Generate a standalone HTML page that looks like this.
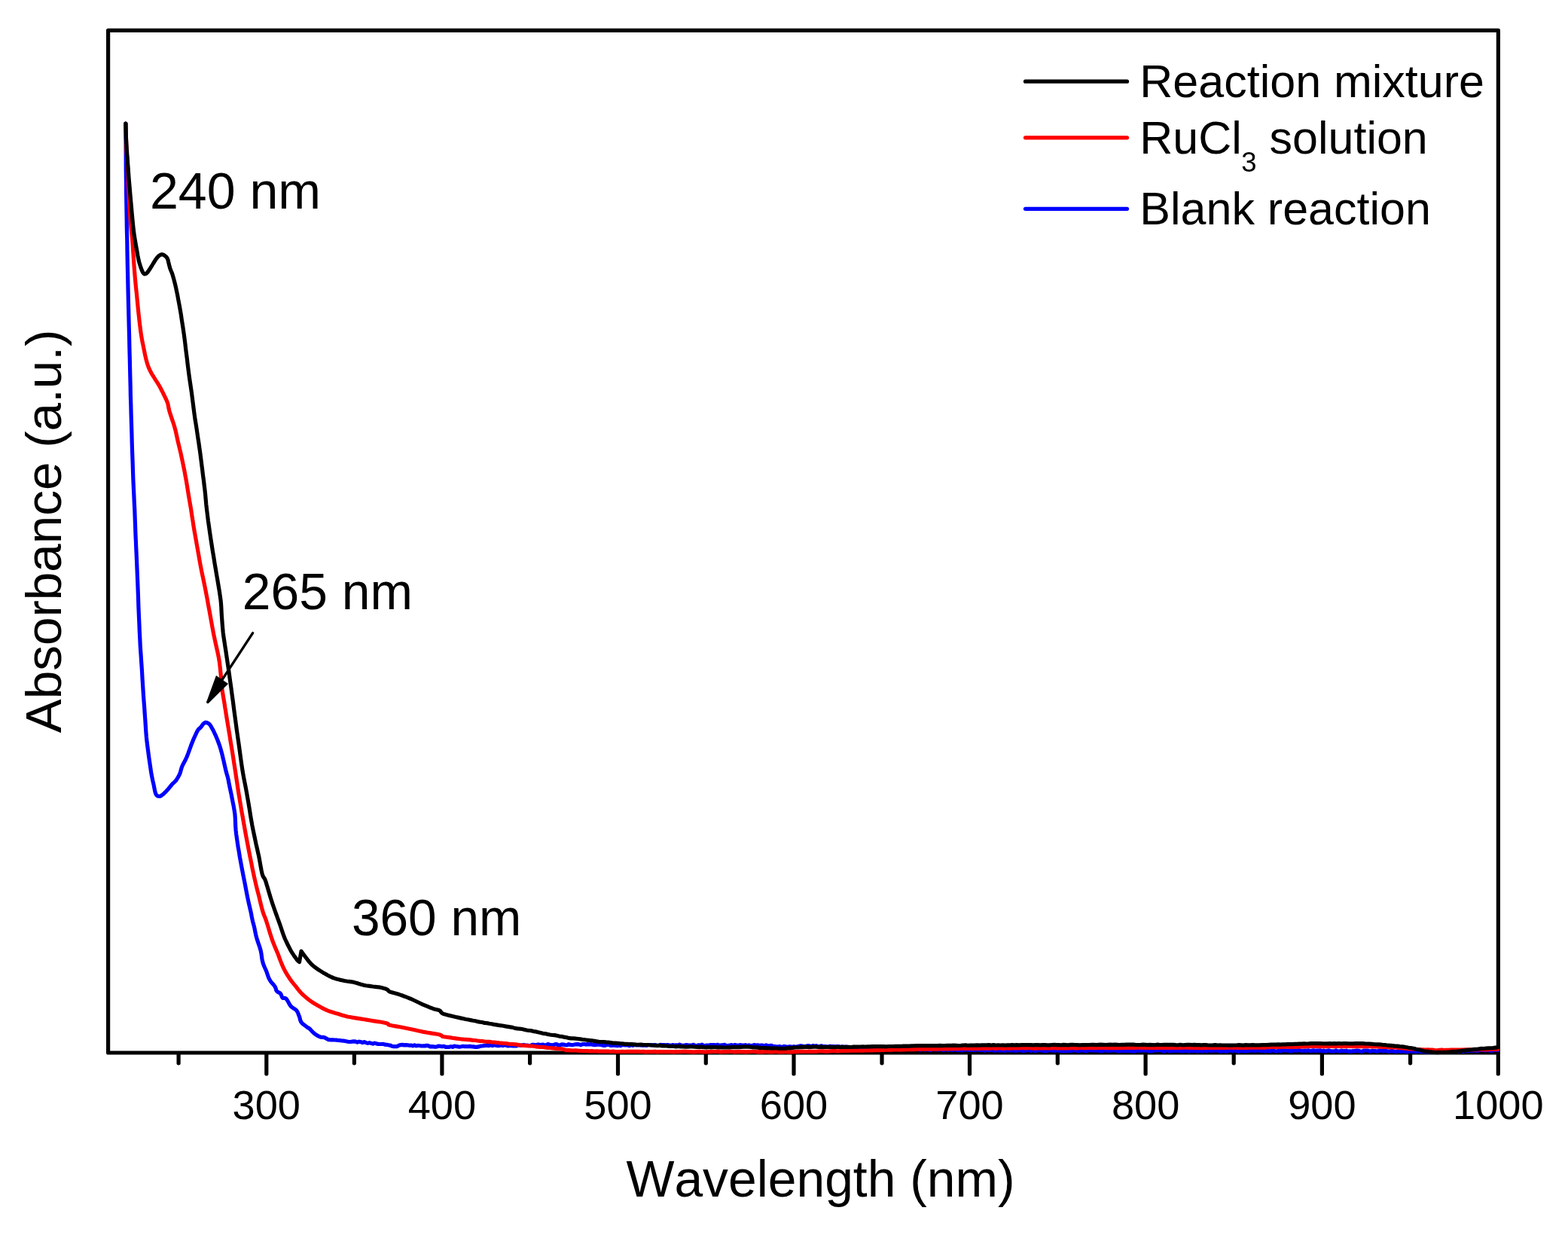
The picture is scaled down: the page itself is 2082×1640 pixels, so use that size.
<!DOCTYPE html>
<html lang="en"><head><meta charset="utf-8"><title>UV-Vis absorbance spectra</title>
<style>
html,body{margin:0;padding:0;background:#fff;}
body{width:2082px;height:1640px;overflow:hidden;}
svg{display:block;}
text{font-family:"Liberation Sans",sans-serif;font-kerning:none;}
</style></head><body>
<svg width="2082" height="1640" viewBox="0 0 2082 1640">
<rect width="2082" height="1640" fill="#fff"/>
<g fill="none" stroke="#000" stroke-width="5.2" stroke-linecap="round" stroke-linejoin="round">
<rect x="143.6" y="40.4" width="1845.8" height="1357.6"/>
<line x1="353.8" y1="1399.0" x2="353.8" y2="1426"/>
<line x1="586.9" y1="1399.0" x2="586.9" y2="1426"/>
<line x1="820.5" y1="1399.0" x2="820.5" y2="1426"/>
<line x1="1054.0" y1="1399.0" x2="1054.0" y2="1426"/>
<line x1="1287.5" y1="1399.0" x2="1287.5" y2="1426"/>
<line x1="1521.1" y1="1399.0" x2="1521.1" y2="1426"/>
<line x1="1755.4" y1="1399.0" x2="1755.4" y2="1426"/>
<line x1="1989.3" y1="1399.0" x2="1989.3" y2="1426"/>
<line x1="237.1" y1="1399.0" x2="237.1" y2="1411.8"/>
<line x1="470.4" y1="1399.0" x2="470.4" y2="1411.8"/>
<line x1="703.6" y1="1399.0" x2="703.6" y2="1411.8"/>
<line x1="937.3" y1="1399.0" x2="937.3" y2="1411.8"/>
<line x1="1171.0" y1="1399.0" x2="1171.0" y2="1411.8"/>
<line x1="1404.3" y1="1399.0" x2="1404.3" y2="1411.8"/>
<line x1="1638.2" y1="1399.0" x2="1638.2" y2="1411.8"/>
<line x1="1872.6" y1="1399.0" x2="1872.6" y2="1411.8"/>
</g>
<g fill="none" stroke-width="5.2" stroke-linecap="round" stroke-linejoin="round">
<path stroke="#0000ff" d="M166.9 164.0 L167.0 175.7 L167.1 192.5 L167.2 210.9 L167.3 227.5 L167.5 241.7 L167.6 255.2 L167.8 268.0 L168.0 280.0 L168.2 290.4 L168.3 299.4 L168.5 308.7 L168.8 320.0 L169.0 334.3 L169.3 350.6 L169.7 367.2 L170.0 382.5 L170.3 395.7 L170.6 407.8 L170.9 419.8 L171.2 432.5 L171.6 446.6 L171.9 461.4 L172.3 476.2 L172.6 490.0 L172.9 502.5 L173.2 514.2 L173.4 525.7 L173.8 537.5 L174.1 549.8 L174.5 562.3 L174.9 574.9 L175.2 587.5 L175.6 600.2 L176.1 613.2 L176.5 625.7 L176.9 637.5 L177.4 648.3 L177.9 658.4 L178.3 668.0 L178.8 677.0 L179.1 685.7 L179.4 694.0 L179.7 701.5 L179.9 708.0 L180.1 712.4 L180.2 715.1 L180.4 718.2 L180.6 723.8 L181.0 732.6 L181.5 743.5 L182.0 755.5 L182.5 767.5 L183.0 779.8 L183.5 792.8 L183.9 805.6 L184.4 817.5 L184.9 828.4 L185.3 838.6 L185.8 848.2 L186.2 857.0 L186.7 864.7 L187.2 871.5 L187.6 878.0 L188.1 885.0 L188.6 892.6 L189.0 900.4 L189.5 908.4 L190.0 916.2 L190.5 924.1 L191.1 931.9 L191.7 939.7 L192.2 947.5 L192.8 955.5 L193.3 963.5 L193.8 971.4 L194.4 978.8 L195.1 985.4 L195.9 991.6 L196.7 997.6 L197.5 1003.8 L198.4 1010.2 L199.4 1016.9 L200.3 1023.2 L201.2 1028.8 L202.1 1033.3 L202.9 1037.1 L203.7 1040.5 L204.4 1043.8 L205.0 1046.9 L205.6 1049.8 L206.2 1052.4 L206.9 1054.4 L207.8 1055.8 L208.9 1056.8 L210.1 1057.3 L211.2 1057.5 L212.4 1057.4 L213.6 1056.8 L214.9 1056.0 L216.2 1055.0 L217.7 1053.7 L219.3 1052.2 L220.9 1050.5 L222.5 1048.8 L224.1 1046.9 L225.7 1044.9 L227.3 1043.0 L228.8 1041.2 L230.1 1039.9 L231.3 1038.8 L232.5 1037.7 L233.8 1036.2 L235.0 1034.4 L236.4 1032.2 L237.6 1029.9 L238.8 1027.5 L239.6 1025.1 L240.2 1022.7 L240.9 1020.2 L241.9 1017.5 L243.2 1014.7 L244.7 1011.9 L246.4 1008.7 L248.1 1005.0 L249.9 1000.4 L251.8 995.2 L253.7 989.8 L255.6 985.0 L257.4 980.6 L259.3 976.5 L261.0 972.8 L262.5 970.0 L263.7 968.3 L264.6 967.5 L265.4 967.0 L266.2 966.2 L267.2 965.0 L268.1 963.6 L269.1 962.3 L270.0 961.2 L270.9 960.4 L271.8 959.8 L272.7 959.4 L273.8 959.4 L274.9 959.7 L276.2 960.3 L277.5 961.2 L278.8 962.5 L280.0 964.2 L281.2 966.4 L282.5 968.8 L283.8 971.2 L285.0 973.9 L286.3 976.6 L287.5 979.5 L288.8 982.5 L289.9 985.5 L291.0 988.5 L292.1 991.7 L293.1 995.0 L294.1 998.6 L295.1 1002.4 L296.0 1006.3 L296.9 1010.0 L297.7 1013.6 L298.5 1017.3 L299.3 1020.7 L300.0 1023.8 L300.7 1026.3 L301.3 1028.5 L301.9 1030.4 L302.5 1032.5 L302.9 1034.4 L303.3 1036.1 L303.6 1038.1 L304.2 1041.0 L305.0 1045.0 L306.0 1049.7 L307.1 1054.8 L308.1 1060.0 L309.1 1065.2 L310.2 1070.5 L311.1 1075.9 L311.9 1081.2 L312.3 1086.5 L312.5 1091.8 L312.7 1097.1 L313.1 1102.5 L313.7 1108.0 L314.5 1113.5 L315.3 1119.2 L316.2 1125.0 L317.3 1131.1 L318.3 1137.5 L319.5 1143.9 L320.6 1150.0 L321.7 1155.8 L322.8 1161.4 L323.9 1166.9 L325.0 1172.5 L326.1 1178.3 L327.2 1184.1 L328.3 1189.8 L329.4 1195.0 L330.4 1199.7 L331.4 1203.9 L332.3 1207.8 L333.1 1211.2 L333.7 1214.1 L334.1 1216.5 L334.5 1218.6 L335.0 1221.0 L335.6 1223.6 L336.3 1226.3 L337.1 1229.1 L337.8 1232.0 L338.4 1235.0 L339.0 1238.1 L339.7 1241.4 L340.6 1245.0 L341.9 1249.1 L343.4 1253.6 L345.0 1258.2 L346.2 1262.5 L347.0 1266.5 L347.5 1270.3 L348.0 1274.0 L348.8 1277.5 L349.8 1280.8 L351.1 1284.0 L352.5 1287.0 L353.8 1290.0 L354.8 1293.0 L355.8 1295.9 L356.8 1298.6 L358.1 1301.2 L359.7 1303.7 L361.7 1305.9 L363.5 1308.0 L365.0 1310.0 L365.9 1311.8 L366.4 1313.5 L366.8 1315.0 L367.5 1316.2 L368.6 1317.2 L370.0 1317.9 L371.4 1318.5 L372.5 1319.4 L373.2 1320.7 L373.8 1322.3 L374.3 1323.8 L375.0 1325.0 L376.0 1325.4 L377.3 1325.3 L378.6 1325.4 L380.0 1326.2 L381.4 1328.2 L383.0 1331.0 L384.6 1333.9 L386.2 1336.2 L388.1 1337.9 L390.2 1339.2 L392.1 1340.4 L393.8 1341.9 L395.0 1343.8 L395.9 1345.8 L396.7 1348.0 L397.5 1350.0 L398.1 1351.9 L398.5 1353.9 L399.1 1355.7 L400.0 1357.5 L401.6 1359.2 L403.7 1360.9 L405.8 1362.5 L407.5 1363.8 L408.6 1364.6 L409.5 1365.0 L410.2 1365.4 L411.2 1366.2 L412.6 1367.6 L414.1 1369.3 L415.8 1371.0 L417.5 1372.5 L419.3 1373.8 L421.3 1375.1 L423.3 1376.1 L425.0 1376.9 L426.4 1377.3 L427.6 1377.3 L428.7 1377.3 L430.0 1377.5 L431.6 1378.2 L433.4 1379.1 L435.1 1380.0 L436.2 1380.6 L440.0 1380.8 L442.3 1380.9 L444.6 1381.0 L446.9 1381.2 L449.2 1381.5 L451.5 1381.7 L453.8 1382.0 L456.1 1382.1 L458.4 1382.5 L460.7 1383.0 L463.0 1383.3 L465.3 1383.5 L467.6 1383.2 L469.9 1382.9 L472.2 1383.2 L474.5 1384.1 L476.8 1383.2 L479.1 1383.6 L481.4 1384.6 L483.7 1383.5 L486.0 1384.6 L488.3 1385.4 L490.6 1384.6 L492.9 1385.4 L495.2 1386.1 L497.5 1385.1 L499.8 1385.9 L502.1 1386.4 L504.4 1386.5 L506.7 1386.5 L509.0 1386.4 L511.3 1387.2 L513.6 1387.3 L515.9 1387.8 L518.2 1388.1 L520.5 1389.3 L522.8 1389.7 L525.1 1389.5 L527.4 1389.6 L529.7 1388.3 L532.0 1387.6 L534.3 1387.4 L536.6 1387.9 L538.9 1387.6 L541.2 1387.8 L543.5 1388.3 L545.8 1388.0 L548.1 1388.8 L550.4 1387.8 L552.7 1388.8 L555.0 1388.4 L557.3 1388.5 L559.6 1389.0 L561.9 1388.9 L564.2 1388.9 L566.5 1388.4 L568.8 1388.7 L571.1 1389.8 L573.4 1389.6 L575.7 1389.9 L578.0 1390.3 L580.3 1389.9 L582.6 1389.0 L584.9 1389.4 L587.2 1389.8 L589.5 1389.3 L591.8 1390.4 L594.1 1390.4 L596.4 1390.3 L598.7 1389.7 L601.0 1390.3 L603.3 1389.2 L605.6 1389.5 L607.9 1389.8 L610.2 1390.2 L612.5 1389.8 L614.8 1389.3 L617.1 1389.6 L619.4 1389.6 L621.7 1389.6 L624.0 1389.4 L626.3 1389.8 L628.6 1389.9 L630.9 1390.4 L633.2 1390.4 L635.5 1389.9 L637.8 1389.2 L640.1 1389.0 L642.4 1388.6 L644.7 1388.3 L647.0 1388.5 L649.3 1388.7 L651.6 1387.4 L653.9 1388.7 L656.2 1387.8 L658.5 1388.2 L660.8 1388.7 L663.1 1388.6 L665.4 1387.8 L667.7 1388.6 L670.0 1387.7 L672.3 1388.2 L674.6 1388.9 L676.9 1388.3 L679.2 1388.6 L681.5 1388.8 L683.8 1388.9 L686.1 1388.8 L688.4 1387.6 L690.7 1388.2 L693.0 1388.2 L695.3 1387.5 L697.6 1388.2 L699.9 1388.2 L702.2 1388.5 L704.5 1388.6 L706.8 1387.4 L709.1 1387.4 L711.4 1388.0 L713.7 1387.2 L716.0 1387.2 L718.3 1387.7 L720.6 1387.0 L722.9 1387.9 L725.2 1387.9 L727.5 1386.6 L729.8 1387.3 L732.1 1387.7 L734.4 1387.9 L736.7 1386.9 L739.0 1386.7 L741.3 1387.8 L743.6 1387.8 L745.9 1386.8 L748.2 1387.1 L750.5 1387.6 L752.8 1387.8 L755.1 1386.7 L757.4 1387.5 L759.7 1387.7 L762.0 1387.3 L764.3 1386.8 L766.6 1386.6 L768.9 1386.9 L771.2 1387.7 L773.5 1386.6 L775.8 1386.5 L778.1 1387.1 L780.4 1386.6 L782.7 1386.8 L785.0 1386.6 L787.3 1387.4 L789.6 1387.7 L791.9 1387.4 L794.2 1387.0 L796.5 1387.3 L798.8 1387.7 L801.1 1388.3 L803.4 1388.4 L805.7 1387.4 L808.0 1387.1 L810.3 1388.3 L812.6 1388.5 L814.9 1387.9 L817.2 1388.4 L819.5 1388.6 L821.8 1388.2 L824.1 1388.6 L826.4 1387.4 L828.7 1387.8 L831.0 1387.9 L833.3 1387.6 L835.6 1388.8 L837.9 1387.4 L840.2 1388.4 L842.5 1387.5 L844.8 1387.9 L847.1 1388.0 L849.4 1387.6 L851.7 1388.1 L854.0 1388.1 L856.3 1387.8 L858.6 1388.4 L860.9 1387.5 L863.2 1387.5 L865.5 1387.8 L867.8 1387.8 L870.1 1387.5 L872.4 1388.6 L874.7 1388.4 L877.0 1387.3 L879.3 1387.7 L881.6 1387.5 L883.9 1387.8 L886.2 1387.5 L888.5 1387.9 L890.8 1388.5 L893.1 1387.6 L895.4 1388.0 L897.7 1387.9 L900.0 1388.2 L902.3 1387.2 L904.6 1388.2 L906.9 1388.5 L909.2 1388.0 L911.5 1387.5 L913.8 1388.1 L916.1 1388.2 L918.4 1388.1 L920.7 1387.3 L923.0 1388.6 L925.3 1388.6 L927.6 1387.8 L929.9 1388.0 L932.2 1387.2 L934.5 1388.6 L936.8 1388.4 L939.1 1388.1 L941.4 1388.3 L943.7 1387.5 L946.0 1387.6 L948.3 1387.6 L950.6 1388.1 L952.9 1387.3 L955.2 1388.5 L957.5 1387.9 L959.8 1387.9 L962.1 1387.4 L964.4 1388.3 L966.7 1388.5 L969.0 1388.2 L971.3 1387.6 L973.6 1388.4 L975.9 1387.5 L978.2 1388.5 L980.5 1388.1 L982.8 1387.7 L985.1 1388.0 L987.4 1388.2 L989.7 1387.7 L992.0 1388.6 L994.3 1387.9 L996.6 1388.6 L998.9 1388.6 L1001.2 1387.5 L1003.5 1388.3 L1005.8 1387.8 L1008.1 1388.5 L1010.4 1388.2 L1012.7 1388.1 L1015.0 1388.9 L1017.3 1387.8 L1019.6 1388.8 L1021.9 1388.6 L1024.2 1388.3 L1026.5 1389.6 L1028.8 1389.5 L1031.1 1390.1 L1033.4 1389.9 L1035.7 1389.7 L1038.0 1390.8 L1040.3 1389.7 L1042.6 1389.6 L1044.9 1390.5 L1047.2 1389.9 L1049.5 1389.8 L1051.8 1390.5 L1054.1 1389.6 L1056.4 1390.4 L1058.7 1389.9 L1061.0 1389.4 L1063.3 1388.9 L1065.6 1389.1 L1067.9 1390.1 L1070.2 1389.2 L1072.5 1388.7 L1074.8 1388.9 L1077.1 1389.7 L1079.4 1388.5 L1081.7 1389.5 L1084.0 1388.6 L1086.3 1390.0 L1088.6 1389.4 L1090.9 1388.8 L1093.2 1390.2 L1095.5 1389.5 L1097.8 1390.1 L1100.1 1389.9 L1102.4 1389.4 L1104.7 1389.5 L1107.0 1389.6 L1109.3 1389.8 L1111.6 1389.7 L1113.9 1389.7 L1116.2 1391.2 L1118.5 1389.9 L1120.8 1390.6 L1123.1 1390.1 L1125.4 1390.3 L1127.7 1391.2 L1130.0 1391.6 L1132.3 1390.9 L1134.6 1390.3 L1136.9 1391.9 L1139.2 1390.5 L1141.5 1391.1 L1143.8 1391.4 L1146.1 1392.0 L1148.4 1391.9 L1150.7 1391.7 L1153.0 1391.4 L1155.3 1392.2 L1157.6 1392.3 L1159.9 1392.3 L1162.2 1392.2 L1164.5 1391.3 L1166.8 1391.7 L1169.1 1392.0 L1171.4 1392.1 L1173.7 1392.7 L1176.0 1391.8 L1178.3 1392.6 L1180.6 1392.2 L1182.9 1392.9 L1185.2 1392.0 L1187.5 1392.5 L1189.8 1392.0 L1192.1 1392.3 L1194.4 1393.4 L1196.7 1392.6 L1199.0 1393.5 L1201.3 1393.0 L1203.6 1392.3 L1205.9 1393.5 L1208.2 1392.5 L1210.5 1393.7 L1212.8 1392.6 L1215.1 1393.6 L1217.4 1392.9 L1219.7 1393.3 L1222.0 1394.2 L1224.3 1393.5 L1226.6 1393.8 L1228.9 1394.0 L1231.2 1393.0 L1233.5 1394.2 L1235.8 1394.3 L1238.1 1393.2 L1240.4 1393.8 L1242.7 1393.4 L1245.0 1394.1 L1247.3 1393.1 L1249.6 1393.8 L1251.9 1394.3 L1254.2 1394.2 L1256.5 1393.3 L1258.8 1394.4 L1261.1 1393.6 L1263.4 1394.4 L1265.7 1394.0 L1268.0 1393.5 L1270.3 1394.4 L1272.6 1394.5 L1274.9 1394.4 L1277.2 1394.8 L1279.5 1393.8 L1281.8 1393.8 L1284.1 1393.7 L1286.4 1394.3 L1288.7 1394.1 L1291.0 1394.1 L1293.3 1394.3 L1295.6 1394.0 L1297.9 1393.6 L1300.2 1394.3 L1302.5 1394.1 L1304.8 1394.3 L1307.1 1395.1 L1309.4 1394.0 L1311.7 1394.7 L1314.0 1394.7 L1316.3 1394.2 L1318.6 1394.5 L1320.9 1395.3 L1323.2 1394.3 L1325.5 1394.9 L1327.8 1395.1 L1330.1 1394.4 L1332.4 1395.4 L1334.7 1394.9 L1337.0 1394.7 L1339.3 1395.0 L1341.6 1394.6 L1343.9 1395.1 L1346.2 1394.4 L1348.5 1395.4 L1350.8 1394.9 L1353.1 1394.4 L1355.4 1394.7 L1357.7 1395.4 L1360.0 1395.3 L1362.3 1394.8 L1364.6 1394.6 L1366.9 1394.7 L1369.2 1395.6 L1371.5 1394.3 L1373.8 1395.5 L1376.1 1395.4 L1378.4 1394.5 L1380.7 1394.7 L1383.0 1395.0 L1385.3 1395.4 L1387.6 1395.6 L1389.9 1395.7 L1392.2 1394.6 L1394.5 1394.5 L1396.8 1394.9 L1399.1 1395.1 L1401.4 1395.2 L1403.7 1394.4 L1406.0 1395.2 L1408.3 1395.6 L1410.6 1395.6 L1412.9 1395.7 L1415.2 1395.7 L1417.5 1395.7 L1419.8 1394.4 L1422.1 1395.7 L1424.4 1394.7 L1426.7 1394.8 L1429.0 1395.0 L1431.3 1395.8 L1433.6 1395.2 L1435.9 1394.9 L1438.2 1394.9 L1440.5 1395.7 L1442.8 1395.6 L1445.1 1394.6 L1447.4 1394.7 L1449.7 1394.9 L1452.0 1394.7 L1454.3 1395.2 L1456.6 1394.7 L1458.9 1395.3 L1461.2 1395.8 L1463.5 1395.7 L1465.8 1394.6 L1468.1 1394.8 L1470.4 1395.1 L1472.7 1395.4 L1475.0 1395.0 L1477.3 1394.9 L1479.6 1395.0 L1481.9 1394.8 L1484.2 1395.8 L1486.5 1395.6 L1488.8 1395.1 L1491.1 1395.6 L1493.4 1395.3 L1495.7 1395.3 L1498.0 1395.1 L1500.3 1395.3 L1502.6 1396.0 L1504.9 1395.7 L1507.2 1395.8 L1509.5 1394.7 L1511.8 1395.3 L1514.1 1395.1 L1516.4 1394.7 L1518.7 1395.2 L1521.0 1394.7 L1523.3 1394.9 L1525.6 1395.8 L1527.9 1395.6 L1530.2 1395.6 L1532.5 1394.7 L1534.8 1394.8 L1537.1 1394.6 L1539.4 1394.7 L1541.7 1394.7 L1544.0 1396.0 L1546.3 1395.9 L1548.6 1394.9 L1550.9 1395.0 L1553.2 1396.0 L1555.5 1395.5 L1557.8 1395.2 L1560.1 1395.3 L1562.4 1395.0 L1564.7 1395.5 L1567.0 1395.7 L1569.3 1395.4 L1571.6 1395.9 L1573.9 1394.8 L1576.2 1395.5 L1578.5 1396.1 L1580.8 1394.9 L1583.1 1395.4 L1585.4 1395.6 L1587.7 1395.1 L1590.0 1396.1 L1592.3 1395.4 L1594.6 1395.4 L1596.9 1396.0 L1599.2 1394.7 L1601.5 1396.0 L1603.8 1394.8 L1606.1 1395.2 L1608.4 1395.4 L1610.7 1395.4 L1613.0 1394.7 L1615.3 1395.1 L1617.6 1395.2 L1619.9 1396.1 L1622.2 1396.0 L1624.5 1395.5 L1626.8 1396.1 L1629.1 1395.9 L1631.4 1395.2 L1633.7 1394.8 L1636.0 1395.6 L1638.3 1395.1 L1640.6 1394.7 L1642.9 1396.1 L1645.2 1396.1 L1647.5 1395.5 L1649.8 1395.6 L1652.1 1395.7 L1654.4 1396.0 L1656.7 1395.4 L1659.0 1395.5 L1661.3 1395.0 L1663.6 1395.0 L1665.9 1395.4 L1668.2 1395.0 L1670.5 1394.7 L1672.8 1395.2 L1675.1 1395.8 L1677.4 1395.1 L1679.7 1395.9 L1682.0 1395.7 L1684.3 1395.6 L1686.6 1396.0 L1688.9 1394.8 L1691.2 1394.9 L1693.5 1396.0 L1695.8 1396.0 L1698.1 1394.8 L1700.4 1395.8 L1702.7 1394.7 L1705.0 1394.9 L1707.3 1394.8 L1709.6 1395.1 L1711.9 1395.2 L1714.2 1396.0 L1716.5 1395.3 L1718.8 1394.8 L1721.1 1395.1 L1723.4 1394.7 L1725.7 1394.7 L1728.0 1395.3 L1730.3 1395.4 L1732.6 1395.0 L1734.9 1395.2 L1737.2 1394.8 L1739.5 1395.6 L1741.8 1395.2 L1744.1 1394.9 L1746.4 1395.4 L1748.7 1395.0 L1751.0 1395.1 L1753.3 1394.8 L1755.6 1395.8 L1757.9 1395.1 L1760.2 1396.1 L1762.5 1395.3 L1764.8 1394.9 L1767.1 1395.8 L1769.4 1395.8 L1771.7 1396.0 L1774.0 1394.9 L1776.3 1395.9 L1778.6 1396.0 L1780.9 1395.2 L1783.2 1395.5 L1785.5 1395.7 L1787.8 1395.2 L1790.1 1396.1 L1792.4 1395.9 L1794.7 1396.1 L1797.0 1395.5 L1799.3 1395.6 L1801.6 1395.1 L1803.9 1395.3 L1806.2 1396.0 L1808.5 1396.3 L1810.8 1395.1 L1813.1 1395.0 L1815.4 1395.0 L1817.7 1395.6 L1820.0 1396.1 L1822.3 1395.3 L1824.6 1395.7 L1826.9 1395.7 L1829.2 1396.2 L1831.5 1395.2 L1833.8 1395.0 L1836.1 1395.8 L1838.4 1395.5 L1840.7 1395.5 L1843.0 1396.2 L1845.3 1396.1 L1847.6 1395.2 L1849.9 1395.9 L1852.2 1396.3 L1854.5 1396.5 L1856.8 1395.2 L1859.1 1396.4 L1861.4 1395.3 L1863.7 1396.3 L1866.0 1396.2 L1868.3 1396.8 L1870.6 1396.3 L1872.9 1395.5 L1875.2 1396.5 L1877.5 1395.9 L1879.8 1396.8 L1882.1 1395.6 L1884.4 1396.1 L1886.7 1396.7 L1889.0 1395.9 L1891.3 1396.7 L1893.6 1396.8 L1895.9 1396.9 L1898.2 1397.1 L1900.5 1396.5 L1902.8 1396.0 L1905.1 1396.2 L1907.4 1396.3 L1909.7 1395.8 L1912.0 1396.8 L1914.3 1395.8 L1916.6 1395.7 L1918.9 1397.0 L1921.2 1396.8 L1923.5 1395.9 L1925.8 1396.0 L1928.1 1396.7 L1930.4 1396.4 L1932.7 1395.7 L1935.0 1395.9 L1937.3 1396.4 L1939.6 1395.0 L1941.9 1396.4 L1944.2 1395.7 L1946.5 1395.0 L1948.8 1395.8 L1951.1 1394.6 L1953.4 1395.1 L1955.7 1395.2 L1958.0 1394.6 L1960.3 1395.5 L1962.6 1395.2 L1964.9 1394.3 L1967.2 1394.3 L1969.5 1394.1 L1971.8 1394.9 L1974.1 1394.3 L1976.4 1394.8 L1978.7 1395.2 L1981.0 1395.2 L1983.3 1394.1 L1985.6 1394.4 L1987.9 1394.5 L1988.5 1394.6"/>
<path stroke="#ff0000" d="M166.9 164.0 L167.1 170.7 L167.3 180.3 L167.6 190.8 L168.0 200.0 L168.5 207.2 L169.0 213.7 L169.5 220.1 L170.0 227.5 L170.3 236.2 L170.6 245.6 L170.9 255.4 L171.3 265.0 L171.9 274.8 L172.6 285.0 L173.4 294.5 L174.0 302.5 L174.5 308.1 L175.0 312.0 L175.4 315.6 L175.8 320.0 L176.2 325.7 L176.6 332.0 L177.1 338.6 L177.5 345.0 L177.9 351.2 L178.4 357.5 L178.9 363.8 L179.4 370.0 L180.0 376.2 L180.6 382.5 L181.3 388.8 L181.9 395.0 L182.5 401.2 L183.1 407.5 L183.7 413.8 L184.4 420.0 L185.1 426.5 L185.9 433.0 L186.7 439.4 L187.5 445.0 L188.3 449.6 L189.0 453.6 L189.8 457.3 L190.6 461.2 L191.5 465.7 L192.4 470.2 L193.4 474.7 L194.4 478.8 L195.4 482.3 L196.4 485.4 L197.5 488.4 L198.8 491.2 L200.2 494.1 L201.7 496.8 L203.4 499.4 L205.0 502.0 L206.6 504.6 L208.3 507.2 L210.0 509.8 L211.6 512.5 L213.1 515.3 L214.6 518.2 L216.1 521.1 L217.5 524.0 L218.9 526.8 L220.2 529.5 L221.4 532.2 L222.5 535.0 L223.2 537.6 L223.6 540.0 L224.1 542.7 L225.0 546.2 L226.5 550.9 L228.3 556.4 L230.3 562.1 L231.9 567.5 L233.2 572.3 L234.2 576.9 L235.2 581.4 L236.2 586.2 L237.5 591.3 L238.7 596.5 L240.0 601.9 L241.2 607.5 L242.5 613.5 L243.8 619.9 L245.1 626.3 L246.2 632.5 L247.3 638.3 L248.2 643.9 L249.1 649.4 L250.0 655.0 L250.9 660.5 L251.8 665.9 L252.8 671.5 L253.8 677.5 L254.8 684.4 L256.0 691.9 L257.1 699.1 L258.1 705.0 L258.7 708.6 L259.1 710.6 L259.5 713.0 L260.3 717.5 L261.7 725.4 L263.5 735.5 L265.3 745.9 L267.0 755.0 L268.4 762.0 L269.7 767.9 L270.9 773.6 L272.2 780.0 L273.6 787.3 L275.1 795.1 L276.5 803.1 L278.0 811.0 L279.4 818.8 L280.8 826.6 L282.2 834.4 L283.7 842.2 L285.4 850.2 L287.2 858.4 L289.0 866.3 L290.4 873.3 L291.4 879.2 L292.0 884.3 L292.5 889.1 L293.0 894.0 L293.5 899.2 L293.9 904.4 L294.3 909.5 L294.8 914.7 L295.6 920.0 L296.5 925.3 L297.4 930.5 L298.2 935.4 L298.8 939.5 L299.4 942.9 L300.0 946.8 L300.8 952.0 L302.0 959.1 L303.4 967.6 L304.9 976.5 L306.2 985.0 L307.6 993.1 L308.9 1001.1 L310.1 1008.9 L311.2 1016.2 L312.3 1023.0 L313.2 1029.2 L314.1 1035.2 L315.0 1041.2 L315.9 1047.2 L316.8 1053.1 L317.8 1059.0 L318.8 1065.0 L319.8 1071.1 L320.8 1077.3 L322.0 1083.5 L323.1 1090.0 L324.3 1096.7 L325.5 1103.5 L326.8 1110.5 L328.1 1117.5 L329.5 1124.7 L330.9 1132.1 L332.4 1139.4 L333.8 1146.2 L335.0 1152.6 L336.3 1158.7 L337.5 1164.4 L338.8 1170.0 L340.0 1175.3 L341.2 1180.2 L342.5 1185.1 L343.8 1190.0 L345.0 1195.2 L346.3 1200.6 L347.6 1205.7 L348.8 1210.0 L349.8 1213.3 L350.8 1215.8 L351.7 1217.9 L352.5 1220.0 L353.1 1221.8 L353.6 1223.1 L354.1 1224.8 L355.0 1227.5 L356.3 1231.7 L357.8 1236.8 L359.5 1242.3 L361.2 1247.5 L363.0 1252.3 L364.9 1257.0 L366.8 1261.6 L368.8 1266.2 L370.6 1271.0 L372.4 1275.9 L374.3 1280.6 L376.2 1285.0 L378.3 1289.1 L380.5 1293.0 L382.8 1296.6 L385.0 1300.0 L387.2 1303.1 L389.5 1306.0 L391.7 1308.7 L393.8 1311.2 L395.6 1313.6 L397.3 1315.7 L399.1 1317.8 L401.2 1320.0 L403.8 1322.4 L406.6 1324.8 L409.6 1327.2 L412.5 1329.4 L415.3 1331.3 L418.0 1333.0 L420.8 1334.6 L423.8 1336.2 L426.8 1337.9 L429.9 1339.6 L433.1 1341.1 L436.2 1342.5 L439.4 1343.6 L442.5 1344.5 L445.6 1345.4 L448.8 1346.2 L451.7 1347.2 L454.6 1348.2 L457.7 1349.1 L461.2 1350.0 L465.6 1350.8 L470.5 1351.6 L475.4 1352.4 L480.0 1353.1 L484.1 1353.8 L487.9 1354.4 L491.5 1355.0 L495.0 1355.6 L498.4 1356.1 L501.7 1356.6 L504.8 1357.0 L507.5 1357.5 L509.8 1358.0 L511.9 1358.5 L513.6 1358.9 L515.0 1359.4 L515.6 1359.8 L515.5 1360.2 L515.8 1360.7 L517.5 1361.2 L521.0 1362.0 L525.9 1362.9 L531.2 1363.8 L536.2 1364.8 L541.1 1365.8 L546.0 1366.8 L550.8 1367.8 L555.0 1368.8 L558.5 1369.5 L561.4 1370.1 L564.3 1370.6 L567.5 1371.2 L571.6 1371.9 L576.2 1372.6 L580.5 1373.3 L583.8 1374.0 L585.7 1374.7 L586.6 1375.4 L587.1 1376.1 L587.5 1376.5 L600.0 1378.2 L603.1 1378.7 L606.2 1379.1 L609.3 1379.5 L612.4 1379.9 L615.5 1380.2 L618.6 1380.3 L621.7 1380.6 L624.8 1380.9 L627.9 1381.3 L631.0 1381.5 L634.1 1382.0 L637.2 1382.3 L640.3 1382.5 L643.4 1383.0 L646.5 1383.3 L649.6 1383.3 L652.7 1383.9 L655.8 1384.0 L658.9 1384.4 L662.0 1384.7 L665.1 1385.2 L668.2 1385.4 L671.3 1385.5 L674.4 1386.0 L677.5 1386.5 L680.6 1386.5 L683.7 1386.8 L686.8 1387.2 L689.9 1387.8 L693.0 1388.1 L696.1 1388.3 L699.2 1388.7 L702.3 1389.0 L705.4 1389.0 L708.5 1389.2 L711.6 1389.8 L714.7 1390.1 L717.8 1390.3 L720.9 1390.5 L724.0 1390.9 L727.1 1391.3 L730.2 1391.5 L733.3 1391.8 L736.4 1392.1 L739.5 1392.6 L742.6 1392.7 L745.7 1392.8 L748.8 1393.6 L751.9 1394.7 L755.0 1394.7 L758.1 1394.8 L761.2 1395.0 L764.3 1394.9 L767.4 1395.2 L770.5 1395.3 L773.6 1395.5 L776.7 1395.6 L779.8 1395.7 L782.9 1395.8 L786.0 1395.7 L789.1 1396.0 L792.2 1395.9 L795.3 1396.1 L798.4 1396.0 L801.5 1396.2 L804.6 1396.0 L807.7 1396.1 L810.8 1396.5 L813.9 1396.2 L817.0 1396.5 L820.1 1396.5 L823.2 1396.5 L826.3 1396.4 L829.4 1396.5 L832.5 1396.3 L835.6 1396.3 L838.7 1396.4 L841.8 1396.3 L844.9 1396.3 L848.0 1396.3 L851.1 1396.5 L854.2 1396.4 L857.3 1396.8 L860.4 1396.6 L863.5 1396.6 L866.6 1396.6 L869.7 1396.4 L872.8 1396.8 L875.9 1396.7 L879.0 1396.7 L882.1 1396.5 L885.2 1396.7 L888.3 1396.7 L891.4 1396.6 L894.5 1396.8 L897.6 1396.6 L900.7 1396.5 L903.8 1396.6 L906.9 1396.4 L910.0 1396.4 L913.1 1396.7 L916.2 1396.7 L919.3 1396.8 L922.4 1396.8 L925.5 1396.6 L928.6 1396.4 L931.7 1396.6 L934.8 1396.8 L937.9 1396.8 L941.0 1396.6 L944.1 1396.6 L947.2 1396.5 L950.3 1396.5 L953.4 1396.4 L956.5 1396.8 L959.6 1396.7 L962.7 1396.5 L965.8 1396.6 L968.9 1396.4 L972.0 1396.5 L975.1 1396.8 L978.2 1396.7 L981.3 1396.7 L984.4 1396.6 L987.5 1396.7 L990.6 1396.9 L993.7 1396.6 L996.8 1396.5 L999.9 1396.5 L1003.0 1396.5 L1006.1 1396.9 L1009.2 1396.7 L1012.3 1396.9 L1015.4 1396.5 L1018.5 1396.6 L1021.6 1396.8 L1024.7 1396.9 L1027.8 1396.6 L1030.9 1396.5 L1034.0 1396.9 L1037.1 1396.6 L1040.2 1396.8 L1043.3 1396.5 L1046.4 1396.8 L1049.5 1396.9 L1052.6 1396.8 L1055.7 1396.5 L1058.8 1396.7 L1061.9 1396.3 L1065.0 1396.4 L1068.1 1396.4 L1071.2 1396.5 L1074.3 1396.1 L1077.4 1396.4 L1080.5 1396.3 L1083.6 1396.4 L1086.7 1396.0 L1089.8 1395.9 L1092.9 1395.8 L1096.0 1396.1 L1099.1 1396.1 L1102.2 1395.9 L1105.3 1395.7 L1108.4 1395.6 L1111.5 1395.8 L1114.6 1395.8 L1117.7 1395.3 L1120.8 1395.3 L1123.9 1395.5 L1127.0 1395.5 L1130.1 1395.2 L1133.2 1395.1 L1136.3 1395.1 L1139.4 1395.1 L1142.5 1394.8 L1145.6 1395.1 L1148.7 1394.9 L1151.8 1394.9 L1154.9 1394.6 L1158.0 1394.9 L1161.1 1394.7 L1164.2 1394.5 L1167.3 1394.7 L1170.4 1394.5 L1173.5 1394.5 L1176.6 1394.1 L1179.7 1394.0 L1182.8 1394.3 L1185.9 1394.0 L1189.0 1394.0 L1192.1 1393.8 L1195.2 1394.1 L1198.3 1393.8 L1201.4 1393.9 L1204.5 1393.5 L1207.6 1393.6 L1210.7 1393.4 L1213.8 1393.7 L1216.9 1393.4 L1220.0 1393.2 L1223.1 1393.1 L1226.2 1393.3 L1229.3 1393.1 L1232.4 1393.1 L1235.5 1393.2 L1238.6 1393.1 L1241.7 1393.1 L1244.8 1393.1 L1247.9 1392.9 L1251.0 1393.0 L1254.1 1392.8 L1257.2 1392.8 L1260.3 1393.0 L1263.4 1392.6 L1266.5 1392.6 L1269.6 1392.6 L1272.7 1392.7 L1275.8 1392.4 L1278.9 1392.3 L1282.0 1392.5 L1285.1 1392.3 L1288.2 1392.5 L1291.3 1392.6 L1294.4 1392.4 L1297.5 1392.4 L1300.6 1392.3 L1303.7 1392.1 L1306.8 1392.2 L1309.9 1392.2 L1313.0 1392.3 L1316.1 1392.0 L1319.2 1392.0 L1322.3 1392.3 L1325.4 1392.0 L1328.5 1392.0 L1331.6 1392.3 L1334.7 1391.9 L1337.8 1391.8 L1340.9 1392.1 L1344.0 1392.0 L1347.1 1392.0 L1350.2 1391.7 L1353.3 1391.8 L1356.4 1391.6 L1359.5 1391.7 L1362.6 1392.0 L1365.7 1391.6 L1368.8 1391.7 L1371.9 1392.1 L1375.0 1392.1 L1378.1 1391.8 L1381.2 1391.9 L1384.3 1391.9 L1387.4 1391.8 L1390.5 1391.9 L1393.6 1391.6 L1396.7 1391.9 L1399.8 1391.5 L1402.9 1391.9 L1406.0 1391.8 L1409.1 1391.7 L1412.2 1391.8 L1415.3 1391.7 L1418.4 1391.8 L1421.5 1391.5 L1424.6 1391.7 L1427.7 1391.8 L1430.8 1391.8 L1433.9 1391.5 L1437.0 1391.5 L1440.1 1391.8 L1443.2 1391.5 L1446.3 1391.4 L1449.4 1391.7 L1452.5 1391.5 L1455.6 1391.7 L1458.7 1391.5 L1461.8 1391.5 L1464.9 1391.5 L1468.0 1391.4 L1471.1 1391.7 L1474.2 1391.6 L1477.3 1391.6 L1480.4 1391.7 L1483.5 1391.3 L1486.6 1391.7 L1489.7 1391.6 L1492.8 1391.4 L1495.9 1391.4 L1499.0 1391.2 L1502.1 1391.5 L1505.2 1391.2 L1508.3 1391.4 L1511.4 1391.2 L1514.5 1391.2 L1517.6 1391.5 L1520.7 1391.4 L1523.8 1391.5 L1526.9 1391.5 L1530.0 1391.6 L1533.1 1391.2 L1536.2 1391.5 L1539.3 1391.4 L1542.4 1391.5 L1545.5 1391.4 L1548.6 1391.4 L1551.7 1391.6 L1554.8 1391.4 L1557.9 1391.4 L1561.0 1391.5 L1564.1 1391.2 L1567.2 1391.4 L1570.3 1391.2 L1573.4 1391.2 L1576.5 1391.2 L1579.6 1391.3 L1582.7 1391.3 L1585.8 1391.4 L1588.9 1391.4 L1592.0 1391.6 L1595.1 1391.4 L1598.2 1391.6 L1601.3 1391.3 L1604.4 1391.5 L1607.5 1391.4 L1610.6 1391.4 L1613.7 1391.2 L1616.8 1391.5 L1619.9 1391.4 L1623.0 1391.1 L1626.1 1391.3 L1629.2 1391.5 L1632.3 1391.0 L1635.4 1391.1 L1638.5 1391.3 L1641.6 1391.0 L1644.7 1391.3 L1647.8 1391.2 L1650.9 1391.3 L1654.0 1391.1 L1657.1 1391.3 L1660.2 1391.0 L1663.3 1391.1 L1666.4 1390.8 L1669.5 1391.1 L1672.6 1391.0 L1675.7 1391.2 L1678.8 1391.2 L1681.9 1390.7 L1685.0 1390.6 L1688.1 1390.5 L1691.2 1390.5 L1694.3 1390.7 L1697.4 1390.5 L1700.5 1390.5 L1703.6 1390.4 L1706.7 1390.1 L1709.8 1390.2 L1712.9 1390.4 L1716.0 1390.3 L1719.1 1390.1 L1722.2 1389.8 L1725.3 1390.1 L1728.4 1389.8 L1731.5 1389.8 L1734.6 1389.6 L1737.7 1389.6 L1740.8 1389.5 L1743.9 1389.5 L1747.0 1389.3 L1750.1 1389.6 L1753.2 1389.3 L1756.3 1389.6 L1759.4 1389.6 L1762.5 1389.6 L1765.6 1389.4 L1768.7 1389.4 L1771.8 1389.6 L1774.9 1389.4 L1778.0 1389.3 L1781.1 1389.7 L1784.2 1389.3 L1787.3 1389.7 L1790.4 1389.4 L1793.5 1389.4 L1796.6 1389.7 L1799.7 1389.5 L1802.8 1389.6 L1805.9 1389.5 L1809.0 1389.7 L1812.1 1389.6 L1815.2 1389.6 L1818.3 1389.5 L1821.4 1389.8 L1824.5 1389.9 L1827.6 1389.9 L1830.7 1390.2 L1833.8 1390.1 L1836.9 1390.4 L1840.0 1390.5 L1843.1 1390.7 L1846.2 1390.8 L1849.3 1390.9 L1852.4 1391.0 L1855.5 1391.2 L1858.6 1391.7 L1861.7 1391.7 L1864.8 1392.2 L1867.9 1392.5 L1871.0 1392.8 L1874.1 1392.8 L1877.2 1392.9 L1880.3 1393.3 L1883.4 1393.5 L1886.5 1393.7 L1889.6 1393.8 L1892.7 1394.0 L1895.8 1393.9 L1898.9 1394.1 L1902.0 1394.2 L1905.1 1394.6 L1908.2 1394.8 L1911.3 1394.4 L1914.4 1394.2 L1917.5 1394.5 L1920.6 1394.3 L1923.7 1394.3 L1926.8 1394.0 L1929.9 1394.0 L1933.0 1394.2 L1936.1 1394.1 L1939.2 1394.2 L1942.3 1394.2 L1945.4 1393.8 L1948.5 1393.9 L1951.6 1393.8 L1954.7 1393.8 L1957.8 1393.7 L1960.9 1393.9 L1964.0 1393.7 L1967.1 1393.5 L1970.2 1393.7 L1973.3 1393.8 L1976.4 1393.7 L1979.5 1393.5 L1982.6 1393.2 L1985.7 1393.6 L1988.5 1393.4"/>
<path stroke="#000" d="M166.9 164.0 L167.0 168.4 L167.2 174.7 L167.4 182.1 L167.8 190.0 L168.3 198.6 L169.0 208.0 L169.7 217.9 L170.4 227.5 L171.1 236.9 L171.9 246.2 L172.7 255.6 L173.5 265.0 L174.4 274.8 L175.3 285.0 L176.2 294.5 L177.0 302.5 L177.7 308.4 L178.3 312.8 L178.9 316.4 L179.5 320.0 L180.1 323.5 L180.6 326.6 L181.2 329.5 L181.7 332.5 L182.3 335.7 L182.8 338.9 L183.4 342.1 L184.0 345.0 L184.7 347.8 L185.4 350.4 L186.2 352.8 L186.9 355.0 L187.6 356.9 L188.2 358.6 L188.8 360.0 L189.4 361.2 L190.0 362.2 L190.6 363.0 L191.2 363.5 L191.9 363.8 L192.6 363.8 L193.4 363.6 L194.2 363.2 L195.0 362.5 L195.9 361.6 L196.8 360.4 L197.7 359.1 L198.8 357.5 L199.9 355.7 L201.2 353.6 L202.5 351.5 L203.8 349.4 L205.0 347.4 L206.3 345.3 L207.6 343.5 L208.8 341.9 L209.8 340.8 L210.7 339.9 L211.6 339.3 L212.5 338.8 L213.3 338.3 L214.0 338.0 L214.8 337.9 L215.6 337.9 L216.5 338.2 L217.5 338.7 L218.5 339.3 L219.4 340.0 L220.3 340.7 L221.1 341.5 L221.8 342.5 L222.5 343.8 L223.1 345.4 L223.5 347.3 L224.0 349.4 L224.4 351.2 L224.9 352.9 L225.3 354.5 L225.7 356.0 L226.2 357.5 L226.8 358.9 L227.4 360.3 L228.1 361.8 L228.8 363.8 L229.5 366.2 L230.3 368.9 L231.1 371.9 L231.9 375.0 L232.7 378.2 L233.5 381.6 L234.2 385.1 L235.0 388.8 L235.8 392.6 L236.5 396.6 L237.3 400.7 L238.1 405.0 L238.9 409.5 L239.7 414.1 L240.5 418.8 L241.2 423.8 L242.0 428.8 L242.8 434.0 L243.6 439.4 L244.4 445.0 L245.2 451.0 L246.0 457.3 L246.7 463.7 L247.5 470.0 L248.3 476.2 L249.0 482.4 L249.8 488.6 L250.6 495.0 L251.5 501.6 L252.5 508.3 L253.5 515.1 L254.5 522.0 L255.4 529.0 L256.3 536.1 L257.2 543.2 L258.1 550.0 L259.0 556.5 L260.0 562.7 L261.0 568.8 L261.9 575.0 L262.8 581.2 L263.8 587.5 L264.7 593.8 L265.6 600.0 L266.4 606.2 L267.2 612.5 L268.0 618.8 L268.8 625.0 L269.5 631.2 L270.4 637.4 L271.1 643.6 L271.9 650.0 L272.6 656.5 L273.2 663.2 L273.8 670.0 L274.6 677.0 L275.5 684.2 L276.4 691.6 L277.5 699.2 L278.6 707.0 L279.8 715.1 L281.1 723.5 L282.4 731.9 L283.8 740.0 L285.0 747.8 L286.3 755.3 L287.5 762.7 L288.8 770.0 L290.0 777.2 L291.2 784.4 L292.2 791.2 L293.1 797.5 L293.6 803.0 L293.9 807.8 L294.1 812.5 L294.4 817.5 L294.8 823.0 L295.2 828.7 L295.7 834.4 L296.2 840.0 L296.9 845.3 L297.7 850.5 L298.5 855.8 L299.4 861.5 L300.3 867.5 L301.2 873.7 L302.2 880.3 L303.3 887.5 L304.4 895.6 L305.6 904.3 L306.9 913.4 L308.1 922.5 L309.4 931.8 L310.6 941.5 L311.9 951.0 L313.1 960.0 L314.2 968.3 L315.3 976.0 L316.4 983.6 L317.5 991.2 L318.6 999.3 L319.7 1007.5 L320.8 1015.4 L321.9 1022.5 L322.9 1028.6 L323.9 1033.9 L324.9 1038.9 L325.9 1044.0 L326.9 1049.2 L327.8 1054.3 L328.7 1059.5 L329.7 1065.0 L330.7 1071.0 L331.7 1077.2 L332.7 1083.7 L333.8 1090.0 L334.9 1096.3 L336.2 1102.7 L337.5 1108.9 L338.8 1115.0 L340.0 1120.8 L341.3 1126.4 L342.5 1131.9 L343.8 1137.5 L344.9 1143.6 L346.0 1149.9 L347.1 1155.8 L348.1 1160.5 L349.1 1163.4 L350.1 1165.1 L351.0 1166.3 L351.9 1168.0 L352.7 1170.1 L353.4 1172.3 L354.1 1174.7 L355.0 1177.5 L356.0 1180.9 L357.1 1184.7 L358.2 1188.6 L359.4 1192.5 L360.6 1196.3 L361.9 1200.2 L363.2 1204.0 L364.4 1207.5 L365.5 1210.6 L366.5 1213.5 L367.5 1216.2 L368.5 1219.0 L369.5 1221.7 L370.4 1224.2 L371.4 1226.9 L372.5 1230.0 L373.7 1233.6 L375.0 1237.7 L376.5 1241.8 L378.1 1246.0 L380.0 1250.2 L382.1 1254.5 L384.2 1258.7 L386.2 1262.5 L388.3 1265.9 L390.3 1268.9 L392.2 1271.6 L393.8 1273.8 L395.0 1275.3 L396.1 1276.3 L396.9 1277.0 L397.5 1277.5 L400.0 1263.1 L400.8 1264.3 L402.0 1265.9 L403.4 1267.9 L405.0 1270.0 L406.8 1272.3 L408.8 1275.0 L410.9 1277.6 L413.1 1280.0 L415.3 1282.1 L417.5 1283.9 L419.9 1285.7 L422.5 1287.5 L425.5 1289.4 L428.7 1291.4 L432.0 1293.3 L435.0 1295.0 L437.6 1296.3 L440.0 1297.5 L442.4 1298.5 L445.0 1299.4 L447.9 1300.3 L451.1 1301.1 L454.3 1301.8 L457.5 1302.5 L460.6 1303.0 L463.8 1303.4 L466.9 1303.8 L470.0 1304.4 L473.1 1305.2 L476.2 1306.3 L479.4 1307.3 L482.5 1308.1 L485.7 1308.7 L488.9 1309.2 L492.1 1309.6 L495.0 1310.0 L497.7 1310.3 L500.2 1310.6 L502.6 1310.9 L505.0 1311.2 L507.4 1311.8 L509.8 1312.4 L511.9 1313.0 L513.8 1313.8 L514.8 1314.5 L515.4 1315.2 L516.1 1316.1 L517.5 1316.9 L520.0 1317.7 L523.0 1318.6 L526.5 1319.5 L530.0 1320.6 L533.5 1321.8 L537.3 1323.2 L541.1 1324.7 L545.0 1326.2 L549.0 1328.0 L553.2 1330.0 L557.3 1332.0 L561.2 1333.8 L565.0 1335.4 L568.6 1336.9 L572.0 1338.3 L575.0 1339.4 L577.7 1340.2 L580.0 1340.8 L582.1 1341.3 L583.8 1341.9 L584.9 1342.8 L585.5 1343.8 L586.2 1344.7 L587.2 1345.6 L589.0 1346.4 L591.3 1347.1 L593.5 1347.7 L595.0 1348.1 L600.0 1349.2 L603.1 1350.0 L606.2 1350.7 L609.3 1351.4 L612.4 1352.1 L615.5 1352.8 L618.6 1353.5 L621.7 1354.0 L624.8 1354.6 L627.9 1355.2 L631.0 1355.7 L634.1 1356.6 L637.2 1357.1 L640.3 1357.5 L643.4 1358.4 L646.5 1358.6 L649.6 1359.2 L652.7 1359.7 L655.8 1360.4 L658.9 1360.9 L662.0 1361.4 L665.1 1361.8 L668.2 1362.3 L671.3 1362.9 L674.4 1363.4 L677.5 1363.9 L680.6 1364.4 L683.7 1365.4 L686.8 1365.9 L689.9 1366.1 L693.0 1366.5 L696.1 1367.2 L699.2 1368.0 L702.3 1368.5 L705.4 1368.7 L708.5 1369.6 L711.6 1369.9 L714.7 1370.8 L717.8 1371.5 L720.9 1372.3 L724.0 1372.6 L727.1 1373.4 L730.2 1374.0 L733.3 1374.5 L736.4 1374.6 L739.5 1375.3 L742.6 1376.1 L745.7 1376.3 L748.8 1377.2 L751.9 1377.6 L755.0 1378.4 L758.1 1378.8 L761.2 1378.8 L764.3 1379.2 L767.4 1379.5 L770.5 1379.8 L773.6 1380.5 L776.7 1380.7 L779.8 1381.2 L782.9 1381.5 L786.0 1381.9 L789.1 1382.4 L792.2 1382.9 L795.3 1383.3 L798.4 1383.5 L801.5 1383.5 L804.6 1383.9 L807.7 1384.1 L810.8 1384.6 L813.9 1385.1 L817.0 1385.0 L820.1 1385.3 L823.2 1385.7 L826.3 1385.9 L829.4 1386.4 L832.5 1386.3 L835.6 1386.6 L838.7 1386.7 L841.8 1386.8 L844.9 1387.2 L848.0 1387.3 L851.1 1387.0 L854.2 1387.6 L857.3 1387.5 L860.4 1387.5 L863.5 1387.8 L866.6 1388.0 L869.7 1388.4 L872.8 1388.3 L875.9 1388.3 L879.0 1388.9 L882.1 1388.6 L885.2 1389.0 L888.3 1389.3 L891.4 1389.3 L894.5 1389.5 L897.6 1389.8 L900.7 1389.4 L903.8 1389.8 L906.9 1389.8 L910.0 1390.1 L913.1 1390.1 L916.2 1389.8 L919.3 1390.0 L922.4 1390.2 L925.5 1390.3 L928.6 1390.2 L931.7 1390.3 L934.8 1390.7 L937.9 1390.8 L941.0 1390.5 L944.1 1390.9 L947.2 1390.7 L950.3 1390.6 L953.4 1390.9 L956.5 1390.9 L959.6 1391.0 L962.7 1391.0 L965.8 1390.9 L968.9 1390.8 L972.0 1390.7 L975.1 1390.7 L978.2 1390.7 L981.3 1390.7 L984.4 1390.4 L987.5 1390.2 L990.6 1390.2 L993.7 1390.2 L996.8 1390.5 L999.9 1390.9 L1003.0 1390.8 L1006.1 1391.2 L1009.2 1391.6 L1012.3 1391.5 L1015.4 1391.6 L1018.5 1391.8 L1021.6 1391.8 L1024.7 1392.2 L1027.8 1391.9 L1030.9 1392.0 L1034.0 1392.3 L1037.1 1392.4 L1040.2 1392.3 L1043.3 1392.3 L1046.4 1391.6 L1049.5 1391.9 L1052.6 1391.4 L1055.7 1391.0 L1058.8 1391.0 L1061.9 1390.7 L1065.0 1390.6 L1068.1 1390.1 L1071.2 1390.3 L1074.3 1390.3 L1077.4 1390.4 L1080.5 1390.2 L1083.6 1390.1 L1086.7 1390.3 L1089.8 1390.2 L1092.9 1390.5 L1096.0 1390.3 L1099.1 1390.3 L1102.2 1390.4 L1105.3 1390.3 L1108.4 1390.5 L1111.5 1390.4 L1114.6 1390.3 L1117.7 1390.2 L1120.8 1390.4 L1123.9 1390.4 L1127.0 1390.4 L1130.1 1390.5 L1133.2 1390.1 L1136.3 1390.1 L1139.4 1390.1 L1142.5 1390.0 L1145.6 1389.9 L1148.7 1390.0 L1151.8 1389.9 L1154.9 1389.8 L1158.0 1389.6 L1161.1 1389.7 L1164.2 1389.5 L1167.3 1389.6 L1170.4 1389.7 L1173.5 1389.6 L1176.6 1389.8 L1179.7 1389.5 L1182.8 1389.5 L1185.9 1389.5 L1189.0 1389.4 L1192.1 1389.3 L1195.2 1389.3 L1198.3 1389.2 L1201.4 1389.0 L1204.5 1389.2 L1207.6 1389.1 L1210.7 1388.9 L1213.8 1388.8 L1216.9 1388.6 L1220.0 1388.7 L1223.1 1388.5 L1226.2 1388.6 L1229.3 1388.5 L1232.4 1388.6 L1235.5 1388.6 L1238.6 1388.6 L1241.7 1388.7 L1244.8 1388.6 L1247.9 1388.3 L1251.0 1388.7 L1254.1 1388.5 L1257.2 1388.4 L1260.3 1388.4 L1263.4 1388.3 L1266.5 1388.1 L1269.6 1388.3 L1272.7 1388.5 L1275.8 1388.3 L1278.9 1388.0 L1282.0 1387.9 L1285.1 1388.3 L1288.2 1388.2 L1291.3 1388.1 L1294.4 1388.1 L1297.5 1387.8 L1300.6 1388.1 L1303.7 1387.8 L1306.8 1387.8 L1309.9 1387.9 L1313.0 1387.7 L1316.1 1388.1 L1319.2 1387.7 L1322.3 1388.0 L1325.4 1387.9 L1328.5 1388.0 L1331.6 1387.9 L1334.7 1388.1 L1337.8 1387.8 L1340.9 1387.8 L1344.0 1387.7 L1347.1 1387.9 L1350.2 1387.7 L1353.3 1387.9 L1356.4 1387.6 L1359.5 1387.6 L1362.6 1387.7 L1365.7 1387.6 L1368.8 1387.6 L1371.9 1387.9 L1375.0 1387.7 L1378.1 1387.6 L1381.2 1387.9 L1384.3 1387.7 L1387.4 1387.7 L1390.5 1387.9 L1393.6 1387.8 L1396.7 1387.5 L1399.8 1387.4 L1402.9 1387.6 L1406.0 1387.7 L1409.1 1387.8 L1412.2 1387.4 L1415.3 1387.6 L1418.4 1387.8 L1421.5 1387.4 L1424.6 1387.4 L1427.7 1387.5 L1430.8 1387.6 L1433.9 1387.8 L1437.0 1387.5 L1440.1 1387.7 L1443.2 1387.6 L1446.3 1387.5 L1449.4 1387.4 L1452.5 1387.4 L1455.6 1387.6 L1458.7 1387.3 L1461.8 1387.2 L1464.9 1387.3 L1468.0 1387.5 L1471.1 1387.3 L1474.2 1387.2 L1477.3 1387.3 L1480.4 1387.1 L1483.5 1387.3 L1486.6 1387.5 L1489.7 1387.3 L1492.8 1387.3 L1495.9 1387.1 L1499.0 1387.2 L1502.1 1387.1 L1505.2 1387.1 L1508.3 1387.5 L1511.4 1387.5 L1514.5 1387.5 L1517.6 1387.2 L1520.7 1387.3 L1523.8 1387.6 L1526.9 1387.4 L1530.0 1387.6 L1533.1 1387.7 L1536.2 1387.2 L1539.3 1387.4 L1542.4 1387.5 L1545.5 1387.4 L1548.6 1387.4 L1551.7 1387.4 L1554.8 1387.4 L1557.9 1387.3 L1561.0 1387.7 L1564.1 1387.8 L1567.2 1387.3 L1570.3 1387.8 L1573.4 1387.6 L1576.5 1387.4 L1579.6 1387.4 L1582.7 1387.6 L1585.8 1387.4 L1588.9 1387.6 L1592.0 1387.6 L1595.1 1387.9 L1598.2 1387.7 L1601.3 1387.6 L1604.4 1388.0 L1607.5 1388.0 L1610.6 1387.9 L1613.7 1387.6 L1616.8 1388.0 L1619.9 1387.8 L1623.0 1388.0 L1626.1 1388.0 L1629.2 1388.0 L1632.3 1388.1 L1635.4 1388.1 L1638.5 1388.0 L1641.6 1388.0 L1644.7 1387.7 L1647.8 1387.8 L1650.9 1388.1 L1654.0 1387.7 L1657.1 1387.9 L1660.2 1387.9 L1663.3 1387.6 L1666.4 1387.8 L1669.5 1387.8 L1672.6 1387.9 L1675.7 1387.6 L1678.8 1387.7 L1681.9 1387.6 L1685.0 1387.3 L1688.1 1387.2 L1691.2 1387.2 L1694.3 1387.2 L1697.4 1386.9 L1700.5 1387.2 L1703.6 1386.8 L1706.7 1386.9 L1709.8 1386.6 L1712.9 1386.6 L1716.0 1386.7 L1719.1 1386.4 L1722.2 1386.4 L1725.3 1386.2 L1728.4 1386.1 L1731.5 1385.9 L1734.6 1386.0 L1737.7 1385.9 L1740.8 1385.7 L1743.9 1385.5 L1747.0 1385.6 L1750.1 1385.6 L1753.2 1385.6 L1756.3 1385.9 L1759.4 1385.9 L1762.5 1385.9 L1765.6 1385.7 L1768.7 1385.9 L1771.8 1385.7 L1774.9 1385.9 L1778.0 1385.5 L1781.1 1385.8 L1784.2 1385.7 L1787.3 1385.7 L1790.4 1385.8 L1793.5 1385.9 L1796.6 1385.9 L1799.7 1385.6 L1802.8 1385.6 L1805.9 1385.7 L1809.0 1385.5 L1812.1 1385.9 L1815.2 1386.0 L1818.3 1386.1 L1821.4 1386.4 L1824.5 1386.7 L1827.6 1386.8 L1830.7 1386.9 L1833.8 1387.0 L1836.9 1387.7 L1840.0 1387.7 L1843.1 1388.2 L1846.2 1388.3 L1849.3 1388.6 L1852.4 1389.1 L1855.5 1389.1 L1858.6 1389.6 L1861.7 1389.9 L1864.8 1390.2 L1867.9 1390.7 L1871.0 1391.5 L1874.1 1391.7 L1877.2 1392.3 L1880.3 1393.3 L1883.4 1393.8 L1886.5 1394.6 L1889.6 1395.4 L1892.7 1396.2 L1895.8 1396.4 L1898.9 1396.8 L1902.0 1397.2 L1905.1 1397.5 L1908.2 1397.7 L1911.3 1397.3 L1914.4 1397.5 L1917.5 1397.3 L1920.6 1397.4 L1923.7 1397.0 L1926.8 1396.7 L1929.9 1396.3 L1933.0 1396.5 L1936.1 1395.9 L1939.2 1395.6 L1942.3 1395.2 L1945.4 1395.1 L1948.5 1394.3 L1951.6 1394.1 L1954.7 1393.9 L1957.8 1393.4 L1960.9 1393.3 L1964.0 1392.9 L1967.1 1392.4 L1970.2 1392.5 L1973.3 1392.1 L1976.4 1391.8 L1979.5 1391.9 L1982.6 1391.6 L1985.7 1391.2 L1988.5 1391.0"/>
<line stroke="#000" x1="1361.5" y1="108.2" x2="1496.5" y2="108.2"/>
<line stroke="#ff0000" x1="1361.5" y1="182.8" x2="1496.5" y2="182.8"/>
<line stroke="#0000ff" x1="1361.5" y1="277.3" x2="1496.5" y2="277.3"/>
</g>
<line x1="335.6" y1="840.6" x2="294.5" y2="903.4" stroke="#000" stroke-width="3.4" stroke-linecap="round"/>
<polygon points="275.8,932.5 287.8,899.7 300.4,908.3" fill="#000" stroke="#000" stroke-width="3.4" stroke-linejoin="miter" stroke-miterlimit="3"/><circle cx="275.8" cy="932.5" r="1.7" fill="#000"/>
<text x="353.8" y="1486" font-size="54.2" text-anchor="middle" fill="#000">300</text>
<text x="586.9" y="1486" font-size="54.2" text-anchor="middle" fill="#000">400</text>
<text x="820.5" y="1486" font-size="54.2" text-anchor="middle" fill="#000">500</text>
<text x="1054.0" y="1486" font-size="54.2" text-anchor="middle" fill="#000">600</text>
<text x="1287.5" y="1486" font-size="54.2" text-anchor="middle" fill="#000">700</text>
<text x="1521.1" y="1486" font-size="54.2" text-anchor="middle" fill="#000">800</text>
<text x="1755.4" y="1486" font-size="54.2" text-anchor="middle" fill="#000">900</text>
<text x="1989.3" y="1486" font-size="54.2" text-anchor="middle" fill="#000">1000</text>
<text x="831.4" y="1588.6" font-size="67.8" fill="#000">Wavelength (nm)</text>
<text transform="translate(81.0 973.2) rotate(-90)" font-size="67.4" fill="#000">Absorbance (a.u.)</text>
<text x="198.9" y="276.8" font-size="68.1" fill="#000">240 nm</text>
<text x="321.8" y="808.6" font-size="67.8" fill="#000">265 nm</text>
<text x="466.9" y="1242.0" font-size="67.6" fill="#000">360 nm</text>
<text x="1513.3" y="128.6" font-size="61" fill="#000">Reaction mixture</text>
<text x="1513.3" y="203.9" font-size="61" fill="#000">RuCl<tspan font-size="36.5" dx="-0.6" dy="24.3">3</tspan><tspan dy="-24.3"> solution</tspan></text>
<text x="1513.3" y="298.1" font-size="61" fill="#000">Blank reaction</text>
</svg>
</body></html>
